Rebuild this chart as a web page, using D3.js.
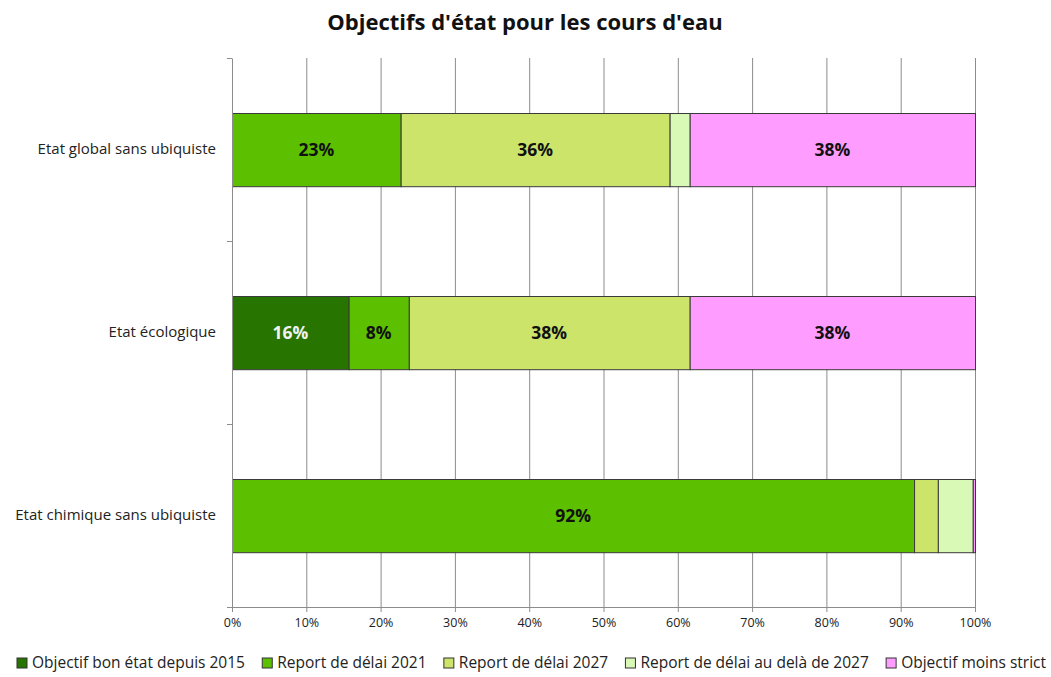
<!DOCTYPE html>
<html>
<head>
<meta charset="utf-8">
<script src="https://cdn.jsdelivr.net/npm/d3@7"></script>
<style>
  body { margin: 0; background: #fff; }
  text { font-family: "Open Sans", Lato, sans-serif; }
</style>
</head>
<body>
<div id="canvas"></div>
<script>
// data
const categories = ["Etat global sans ubiquiste", "Etat écologique", "Etat chimique sans ubiquiste"];
const seriesNames = ["Objectif bon état depuis 2015", "Report de délai 2021", "Report de délai 2027",
    "Report de délai au delà de 2027", "Objectif moins strict"];
const colors = ["#277500", "#5cbf00", "#cde46a", "#d9f9b6", "#ff9cff"];
const bonEtat2015 = [0, 15.7, 0];
const delai2021 = [22.7, 8.1, 91.8];
const delai2027 = [36.2, 37.8, 3.2];
const delaiApres2027 = [2.7, 0, 4.7];
const moinsStrict = [38.4, 38.4, 0.3];
const xTicks = [0, 10, 20, 30, 40, 50, 60, 70, 80, 90, 100];

const W = 1051, H = 677;
const margin = { top: 58, right: 76, bottom: 70, left: 232 },
    width = W - margin.left - margin.right,
    height = H - margin.top - margin.bottom;

const svg = d3.select("#canvas")
    .append("svg")
    .attr("width", W)
    .attr("height", H);

svg.append("text")
    .attr("x", 525)
    .attr("y", 30)
    .attr("text-anchor", "middle")
    .attr("font-size", 22)
    .attr("font-weight", "bold")
    .attr("fill", "#111")
    .text("Objectifs d'état pour les cours d'eau");

const g = svg.append("g")
    .attr("transform", `translate(${margin.left},${margin.top})`);

const x = d3.scaleLinear().domain([0, 100]).range([0, width]);
const y = d3.scaleBand().domain(categories).range([0, height]).paddingInner(0.6).paddingOuter(0.3);

// gridlines
g.append("g")
    .selectAll("line")
    .data(xTicks.slice(1))
    .join("line")
    .attr("x1", d => x(d) + 0.5).attr("x2", d => x(d) + 0.5)
    .attr("y1", 0).attr("y2", height)
    .attr("stroke", "#8c8c8c");

// stacked data
const series = [bonEtat2015, delai2021, delai2027, delaiApres2027, moinsStrict];
const rows = categories.map((c, i) => {
    const r = { cat: c };
    seriesNames.forEach((s, j) => r[s] = series[j][i]);
    return r;
});
const stacked = d3.stack().keys(seriesNames)(rows);

const layers = g.append("g")
    .selectAll("g")
    .data(stacked)
    .join("g")
    .attr("fill", (d, i) => colors[i]);

layers.selectAll("rect")
    .data(d => d.filter(p => p[1] - p[0] > 0))
    .join("rect")
    .attr("x", p => x(p[0]) + 0.5)
    .attr("y", p => Math.round(y(p.data.cat)) + 0.5)
    .attr("width", p => x(p[1]) - x(p[0]))
    .attr("height", y.bandwidth())
    .attr("stroke", "#3a3a3a")
    .attr("stroke-width", 1);

// value labels (only big enough segments)
layers.each(function (layer, i) {
    d3.select(this).selectAll("text")
        .data(layer.filter(p => p[1] - p[0] >= 5))
        .join("text")
        .attr("x", p => x((p[0] + p[1]) / 2))
        .attr("y", p => y(p.data.cat) + y.bandwidth() / 2 + 6)
        .attr("text-anchor", "middle")
        .attr("font-size", 17.5)
        .attr("font-weight", "bold")
        .attr("fill", i === 0 ? "#f2f2f2" : "#111")
        .text(p => Math.round(p[1] - p[0]) + "%");
});

// x axis
const xAxis = g.append("g")
    .attr("transform", `translate(0,${height})`)
    .call(d3.axisBottom(x).tickValues(xTicks).tickFormat(d => d + "%").tickSize(5).tickSizeOuter(0));
xAxis.select(".domain").attr("stroke", "#8c8c8c");
xAxis.selectAll(".tick line").attr("stroke", "#8c8c8c");
xAxis.selectAll(".tick text").attr("font-size", 12.5).attr("fill", "#222")
    .attr("font-family", "'Open Sans', Lato, sans-serif").attr("dy", "0.95em");

// y axis
const yAxis = g.append("g").call(d3.axisLeft(y).tickSize(0).tickPadding(16));
yAxis.select(".domain").attr("stroke", "#8c8c8c");
yAxis.selectAll(".tick text").attr("font-size", 15).attr("fill", "#222")
    .attr("font-family", "'Open Sans', Lato, sans-serif");
// category ticks at band boundaries
const step = y.step();
g.append("g")
    .selectAll("line")
    .data(d3.range(categories.length + 1))
    .join("line")
    .attr("x1", -5).attr("x2", 0)
    .attr("y1", i => Math.round(i * step) + 0.5)
    .attr("y2", i => Math.round(i * step) + 0.5)
    .attr("stroke", "#8c8c8c");

// legend
const legend = svg.append("g").attr("transform", "translate(0,668)");
const items = legend.selectAll("g")
    .data(seriesNames)
    .join("g");
items.append("rect")
    .attr("width", 10).attr("height", 10)
    .attr("y", -10)
    .attr("fill", (d, i) => colors[i])
    .attr("stroke", "#333");
items.append("text")
    .attr("x", 15)
    .attr("y", 0)
    .attr("font-size", 15.5)
    .attr("fill", "#222")
    .text(d => d);
let pos = [];
let total = 0;
items.each(function () {
    const w = 15 + this.querySelector("text").getComputedTextLength();
    pos.push(w);
    total += w;
});
const left = 17, right = 1046;
const gap = (right - left - total) / (seriesNames.length - 1);
let cx = left;
items.attr("transform", (d, i) => {
    const t = `translate(${cx},0)`;
    cx += pos[i] + gap;
    return t;
});
</script>
</body>
</html>
